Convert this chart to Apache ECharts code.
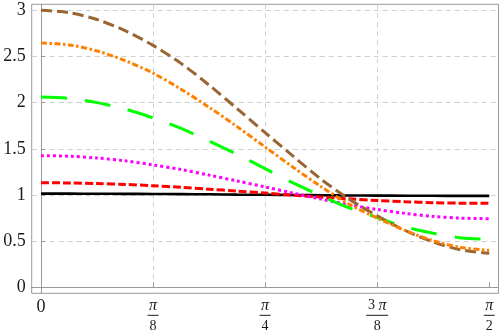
<!DOCTYPE html>
<html><head><meta charset="utf-8">
<script src="https://cdn.jsdelivr.net/npm/echarts@6/dist/echarts.min.js"></script>
<style>html,body{margin:0;padding:0;background:#fff}#c{width:499px;height:334px}</style>
</head><body><div id="c"></div>
<script>
// x positions in units of π/32
const xSteps32 = [0, 1, 2, 3, 4, 5, 6, 7, 8, 9, 10, 11, 12, 13, 14, 15, 16];
const brownVals   = [3.00, 2.975, 2.90, 2.78, 2.62, 2.425, 2.19, 1.935, 1.675, 1.42, 1.17, 0.955, 0.775, 0.615, 0.49, 0.405, 0.37];
const orangeVals  = [2.645, 2.625, 2.56, 2.455, 2.32, 2.145, 1.95, 1.74, 1.52, 1.30, 1.09, 0.90, 0.75, 0.615, 0.505, 0.43, 0.40];
const greenVals   = [2.06, 2.045, 2.00, 1.93, 1.835, 1.72, 1.585, 1.44, 1.285, 1.13, 0.99, 0.86, 0.755, 0.655, 0.585, 0.535, 0.52];
const magentaVals = [1.426, 1.42, 1.40, 1.37, 1.325, 1.275, 1.215, 1.152, 1.087, 1.02, 0.955, 0.895, 0.843, 0.80, 0.768, 0.749, 0.743];
const redVals     = [1.133, 1.13, 1.124, 1.114, 1.10, 1.083, 1.063, 1.042, 1.02, 0.998, 0.977, 0.958, 0.94, 0.926, 0.917, 0.911, 0.909];
const blackVals   = [1.014, 1.014, 1.013, 1.012, 1.011, 1.009, 1.007, 1.004, 1.002, 1.0, 0.997, 0.995, 0.993, 0.992, 0.991, 0.99, 0.99];
// x ticks in units of π/8
const xTickSteps = [0, 1, 2, 3, 4];
const xTickNum = ['0', 'π', 'π', '3 π', 'π'];
const xTickDen = ['', '8', '4', '8', '2'];
const yTicks = [0, 0.5, 1, 1.5, 2, 2.5, 3];
const yTickLabels = ['0', '0.5', '1', '1.5', '2', '2.5', '3'];

const PI = Math.PI;
const xs = xSteps32.map(k => k * PI / 32);
const pts = v => v.map((y, i) => [xs[i], y]);
const xTickVals = xTickSteps.map(k => k * PI / 8);

const serif = '"Liberation Serif", "Times New Roman", serif';
const axisGray = '#9a9a9a';
const gridGray = '#cfcfcf';
const txt = '#1a1a1a';

const chart = echarts.init(document.getElementById('c'), null, {renderer: 'canvas'});

function mk(name, data, color, type, width) {
  return {
    name, type: 'line', data: pts(data), smooth: 0.3, symbol: 'none',
    lineStyle: {color, width, type, cap: 'butt'}, animation: false, z: 2
  };
}

chart.setOption({
  animation: false,
  grid: {left: 31.7, right: 0.5, top: 4.3, bottom: 40.7, show: true, borderColor: axisGray, borderWidth: 1},
  xAxis: {
    type: 'value', min: -0.0325, max: PI / 2 + 0.0325,
    axisLine: {show: true, lineStyle: {color: axisGray, width: 1}},
    axisTick: {show: true, inside: true, length: 5, customValues: xTickVals, lineStyle: {color: axisGray}},
    splitLine: {show: true, lineStyle: {color: ['rgba(0,0,0,0)', gridGray, gridGray, gridGray, 'rgba(0,0,0,0)'], type: [5, 4], width: 1}},
    axisLabel: {
      customValues: xTickVals, margin: 7, color: txt, fontFamily: serif, fontSize: 18,
      verticalAlign: 'top',
      formatter: function (v) {
        const i = Math.round(v / (PI / 8));
        if (xTickDen[i] === '') return '{z|' + xTickNum[i] + '}';
        const three = xTickNum[i].indexOf('3') === 0;
        const numStr = three ? '{t|3 }{n|π}' : '{n|π}';
        const bar = three ? '{bw| }' : '{b| }';
        return numStr + '\n' + bar + '\n{d|' + xTickDen[i] + '}';
      },
      rich: {
        z: {fontFamily: serif, fontSize: 18, lineHeight: 14, color: txt},
        n: {fontFamily: serif, fontStyle: 'italic', fontSize: 16, lineHeight: 11, color: txt},
        t: {fontFamily: serif, fontSize: 14, lineHeight: 11, color: txt},
        b: {width: 11, height: 1, lineHeight: 8, fontSize: 4, backgroundColor: txt},
        bw: {width: 22, height: 1, lineHeight: 8, fontSize: 4, backgroundColor: txt},
        d: {fontFamily: serif, fontSize: 14, lineHeight: 15, color: txt}
      }
    }
  },
  yAxis: {
    type: 'value', min: -0.065, max: 3.065,
    axisLine: {show: true, lineStyle: {color: axisGray, width: 1}},
    axisTick: {show: true, inside: true, length: 4, customValues: yTicks, lineStyle: {color: axisGray}},
    splitLine: {show: true, lineStyle: {color: ['rgba(0,0,0,0)', gridGray, gridGray, gridGray, gridGray, gridGray, gridGray], type: [5, 4], width: 1}},
    axisLabel: {
      customValues: yTicks, margin: 6, color: txt, fontFamily: serif, fontSize: 18,
      formatter: function (v) {
        const i = yTicks.findIndex(t => Math.abs(t - v) < 1e-6);
        return i >= 0 ? yTickLabels[i] : '';
      }
    }
  },
  series: [
    mk('black', blackVals, '#000000', 'solid', 2.6),
    mk('red', redVals, '#ff0000', [8, 3], 3),
    mk('magenta', magentaVals, '#ff00ff', [3, 3], 3),
    mk('green', greenVals, '#00ff00', [26, 18], 3),
    mk('brown', brownVals, '#996633', [11, 5], 3),
    mk('orange', orangeVals, '#ff8000', [6, 2.5, 2.5, 2.5], 3)
  ]
});
</script>
</body></html>
